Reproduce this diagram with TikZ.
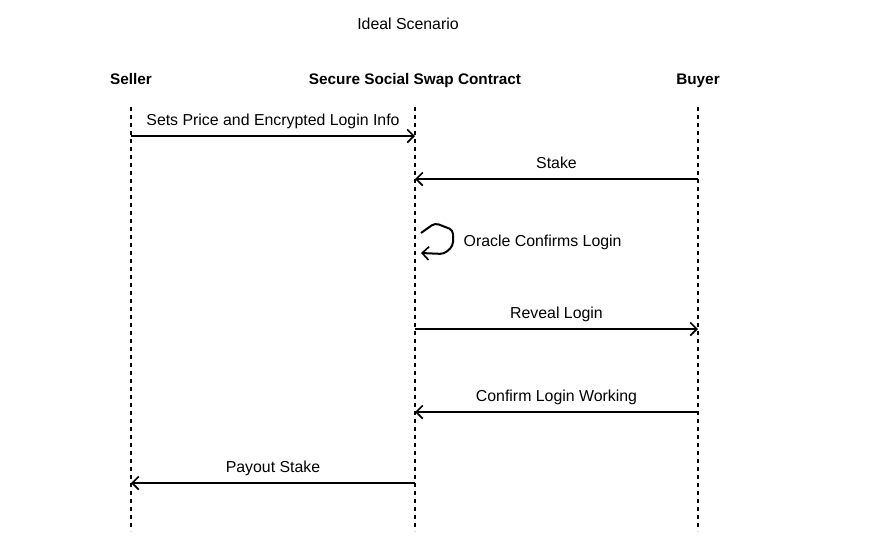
\documentclass[tikz,border=0pt]{standalone}
\usepackage{fontspec}
\setmainfont{Liberation Sans}
\usetikzlibrary{positioning,arrows.meta,calc}

\begin{document}
\begin{tikzpicture}[
      x=0.75pt, y=-0.75pt,
      font=\fontsize{11.9}{14}\selectfont,
      actor/.style={font=\fontsize{11.5}{14}\selectfont\bfseries, anchor=base},
      life/.style={line width=1.5pt, dash pattern=on 3pt off 3pt},
      msg/.style={-{Straight Barb[length=5pt,width=10pt,line width=1.2pt]}, line width=1.5pt},
      msglbl/.style={above=4pt, inner sep=1pt, text depth=0.25em}
    ]
    \useasboundingbox (0,0) rectangle (869,554);
    % ------------- title and actors -------------
    \node (title) at (408,24) {Ideal Scenario};
    \node[actor] (seller) at (131,84) {Seller};
    \node[actor] (contract) at (415,84) {Secure Social Swap Contract};
    \node[actor] (buyer) at (698,84) {Buyer};
    % ------------- lifelines -------------
    \coordinate (sTop) at (131,107);  \coordinate (sBot) at (131,531);
    \coordinate (cTop) at (415,107);  \coordinate (cBot) at (415,531);
    \coordinate (bTop) at (698,107);  \coordinate (bBot) at (698,531);
    \draw[life] (sTop) -- (sBot);
    \draw[life] (cTop) -- (cBot);
    \draw[life] (bTop) -- (bBot);
    % ------------- messages -------------
    \coordinate (s1) at (131,136);  \coordinate (c1) at (415,136);
    \draw[msg] (s1) -- node[msglbl] {Sets Price and Encrypted Login Info} (c1);
    \coordinate (b2) at (698,179);  \coordinate (c2) at (415,179);
    \draw[msg] (b2) -- node[msglbl] {Stake} (c2);
    % self call on the contract
    \coordinate (loopA) at (421,233);  \coordinate (loopB) at (421,253);
    \draw[msg, rounded corners=3pt] (loopA) -- (435,223) -- (453,230) -- (453,246) -- (444,254) -- (loopB);
    \node[anchor=west] (oracle) at (459,242) {Oracle Confirms Login};
    \coordinate (c4) at (415,329);  \coordinate (b4) at (698,329);
    \draw[msg] (c4) -- node[msglbl] {Reveal Login} (b4);
    \coordinate (b5) at (698,412);  \coordinate (c5) at (415,412);
    \draw[msg] (b5) -- node[msglbl] {Confirm Login Working} (c5);
    \coordinate (c6) at (415,483);  \coordinate (s6) at (131,483);
    \draw[msg] (c6) -- node[msglbl] {Payout Stake} (s6);
  \end{tikzpicture}
\end{document}
